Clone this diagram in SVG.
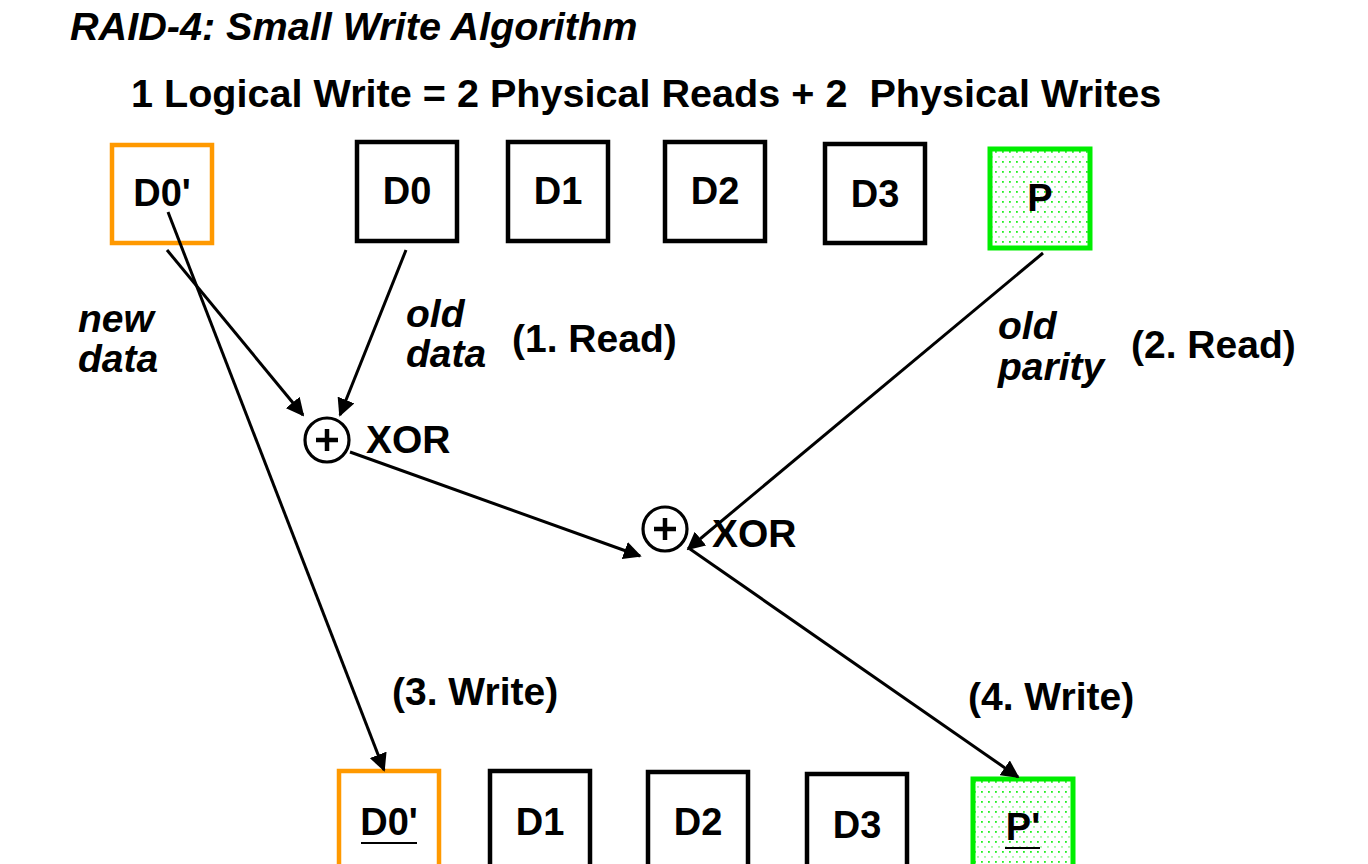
<svg xmlns="http://www.w3.org/2000/svg" width="1368" height="864" viewBox="0 0 1368 864">
<style>
text{font-family:"Liberation Sans",Arial,sans-serif;font-weight:bold;font-size:39px;fill:#000;white-space:pre}
.it{font-style:italic}
.hd{font-size:39.6px}
.box{fill:#fff;stroke:#000;stroke-width:4.5}
.new{fill:#fff;stroke:#ff9900;stroke-width:4.5}
.par{fill:url(#dots);stroke:#00ee00;stroke-width:5}
.lbl{text-anchor:middle;font-size:38px}
.ln{stroke:#000;stroke-width:3;fill:none;marker-end:url(#ah)}
.xor{fill:#fff;stroke:#000;stroke-width:3.2}
</style>
<defs>
<pattern id="dots" width="7" height="10" patternUnits="userSpaceOnUse">
<rect width="7" height="10" fill="#fff"/>
<rect x="1" y="1" width="1.8" height="1.8" fill="#22ee22"/>
<rect x="4.5" y="6" width="1" height="1.8" fill="#55ee55"/>
</pattern>
<marker id="ah" viewBox="0 0 10 10" refX="9" refY="5" markerWidth="6" markerHeight="6" orient="auto" markerUnits="strokeWidth">
<path d="M0,0 L10,5 L0,10 z" fill="#000"/>
</marker>
</defs>
<rect width="1368" height="864" fill="#fff"/>
<text class="it hd" x="70" y="40">RAID-4: Small Write Algorithm</text>
<text class="hd" x="131" y="107">1 Logical Write = 2 Physical Reads + 2  Physical Writes</text>

<g id="top-d0new"><rect class="new" x="112" y="145" width="100" height="98"/><text class="lbl" x="162" y="206">D0'</text></g>
<g id="top-d0"><rect class="box" x="357" y="142" width="100" height="99"/><text class="lbl" x="407" y="204">D0</text></g>
<g id="top-d1"><rect class="box" x="508" y="142" width="100" height="99"/><text class="lbl" x="558" y="204">D1</text></g>
<g id="top-d2"><rect class="box" x="665" y="142" width="100" height="99"/><text class="lbl" x="715" y="204">D2</text></g>
<g id="top-d3"><rect class="box" x="825" y="144" width="100" height="99"/><text class="lbl" x="875" y="207">D3</text></g>
<g id="top-p"><rect class="par" x="990" y="149" width="100" height="99"/><text class="lbl" x="1040" y="211">P</text></g>

<g id="xor1"><circle class="xor" cx="327" cy="440" r="22"/><path d="M316,440 H338 M327,429 V451" stroke="#000" stroke-width="4.5"/><text x="366" y="453">XOR</text></g>
<g id="xor2"><circle class="xor" cx="665" cy="529" r="22"/><path d="M654,529 H676 M665,518 V540" stroke="#000" stroke-width="4.5"/><text x="712" y="547">XOR</text></g>

<g id="bot-d0new"><rect class="new" x="339" y="771" width="100" height="110"/><text class="lbl" x="389" y="835">D0'</text><path d="M361,843 H417" stroke="#000" stroke-width="2"/></g>
<g id="bot-d1"><rect class="box" x="490" y="771" width="100" height="110"/><text class="lbl" x="540" y="835">D1</text></g>
<g id="bot-d2"><rect class="box" x="648" y="772" width="100" height="110"/><text class="lbl" x="698" y="835">D2</text></g>
<g id="bot-d3"><rect class="box" x="807" y="774" width="100" height="110"/><text class="lbl" x="857" y="838">D3</text></g>
<g id="bot-p"><rect class="par" x="973" y="779" width="100" height="110"/><text class="lbl" x="1023" y="840">P'</text><path d="M1005,848 H1040" stroke="#000" stroke-width="2"/></g>

<g id="labels">
<text class="it" x="78" y="332">new</text>
<text class="it" x="78" y="372">data</text>
<text class="it" x="406" y="327">old</text>
<text class="it" x="406" y="367">data</text>
<text x="512" y="352">(1. Read)</text>
<text class="it" x="998" y="339">old</text>
<text class="it" x="998" y="380">parity</text>
<text x="1131" y="358">(2. Read)</text>
<text x="392" y="705">(3. Write)</text>
<text x="968" y="710">(4. Write)</text>
</g>

<g id="connectors">
<line class="ln" x1="167" y1="250" x2="303" y2="415"/>
<line class="ln" x1="406" y1="250" x2="340" y2="415"/>
<line class="ln" x1="168" y1="212" x2="384" y2="770"/>
<line class="ln" x1="350" y1="452" x2="640" y2="556"/>
<line class="ln" x1="1043" y1="253" x2="688" y2="549"/>
<line class="ln" x1="690" y1="549" x2="1018" y2="777"/>
</g>
</svg>
